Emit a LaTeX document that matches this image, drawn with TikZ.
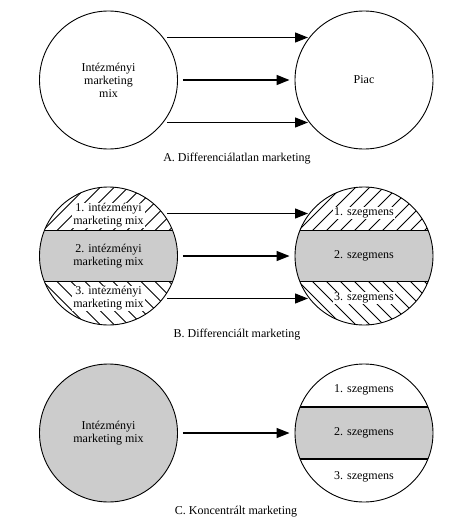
\documentclass[tikz,border=0pt]{standalone}
\usepackage{fontspec}
\setmainfont{Liberation Serif}
\usetikzlibrary{arrows.meta}
\definecolor{bandgray}{RGB}{204,204,204}
\tikzset{
  disc/.style={circle, draw, line width=0.9pt, minimum size=138pt, inner sep=0pt, align=center, font=\fontsize{12}{13}\selectfont},
  lbl/.style={align=center, font=\fontsize{12}{13}\selectfont, inner sep=1pt},
  wlbl/.style={lbl, fill=white},
  conn/.style={line width=1.3pt, -{Triangle[length=13pt,width=10pt]}},
  bandline/.style={line width=1.3pt},
  hatchline/.style={line width=0.8pt},
}
\begin{document}
\begin{tikzpicture}[x=1pt,y=-1pt]
\useasboundingbox (0,0) rectangle (473,527);

% ---------- Panel A ----------
\node[disc] (A1) at (108.5,80) {Intézményi\\marketing\\mix};
\node[disc] (A2) at (364,80) {Piac};
\coordinate (a1s) at (167,37.5); \coordinate (a1e) at (308,37.5);
\coordinate (a3s) at (167,122.5); \coordinate (a3e) at (308,122.5);
\draw[conn] (a1s) -- (a1e);
\draw[conn] ([xshift=5pt]A1.east) -- ([xshift=-5pt]A2.west);
\draw[conn] (a3s) -- (a3e);
\node[lbl] (capA) at (237,159) {A. Differenciálatlan marketing};

% ---------- Panel B ----------
\foreach \cx in {108.5,364} {
  \begin{scope}
    \clip (\cx,256) circle (69pt);
    \fill[bandgray] (\cx-75,230.5) rectangle (\cx+75,281.5);
    \begin{scope}
      \clip (\cx-75,180) rectangle (\cx+75,230.5);
      \foreach \k in {0,...,22}
        \draw[hatchline] (\cx-150+14*\k,245) -- ++(100,-100);
    \end{scope}
    \begin{scope}
      \clip (\cx-75,281.5) rectangle (\cx+75,330);
      \foreach \k in {0,...,22}
        \draw[hatchline] (\cx-150+14*\k,267) -- ++(100,100);
    \end{scope}
    \draw[bandline] (\cx-75,230.5) -- (\cx+75,230.5);
    \draw[bandline] (\cx-75,281.5) -- (\cx+75,281.5);
  \end{scope}
}
\node[disc] (B1) at (108.5,256) {};
\node[disc] (B2) at (364,256) {};
\node[wlbl] (B1a) at (108.5,215.5) {1. intézményi\\marketing mix};
\node[lbl]  (B1b) at (108.5,256.5) {2. intézményi\\marketing mix};
\node[wlbl] (B1c) at (108.5,298.5) {3. intézményi\\marketing mix};
\node[wlbl] (B2a) at (364,213) {1. szegmens};
\node[lbl]  (B2b) at (364,256) {2. szegmens};
\node[wlbl] (B2c) at (364,298) {3. szegmens};
\coordinate (b1s) at (167,213.5); \coordinate (b1e) at (308,213.5);
\coordinate (b3s) at (167,298.5); \coordinate (b3e) at (308,298.5);
\draw[conn] (b1s) -- (b1e);
\draw[conn] ([xshift=5pt]B1.east) -- ([xshift=-5pt]B2.west);
\draw[conn] (b3s) -- (b3e);
\node[lbl] (capB) at (237,335) {B. Differenciált marketing};

% ---------- Panel C ----------
\node[disc, fill=bandgray] (C1) at (108.5,433) {Intézményi\\marketing mix};
\begin{scope}
  \clip (364,433) circle (69pt);
  \fill[bandgray] (289,407) rectangle (439,459);
  \draw[bandline] (289,407) -- (439,407);
  \draw[bandline] (289,459) -- (439,459);
\end{scope}
\node[disc] (C2) at (364,433) {};
\node[lbl] (C2a) at (364,390) {1. szegmens};
\node[lbl] (C2b) at (364,433) {2. szegmens};
\node[lbl] (C2c) at (364,476.5) {3. szegmens};
\draw[conn] ([xshift=5pt]C1.east) -- ([xshift=-5pt]C2.west);
\node[lbl] (capC) at (236,512) {C. Koncentrált marketing};
\end{tikzpicture}
\end{document}
